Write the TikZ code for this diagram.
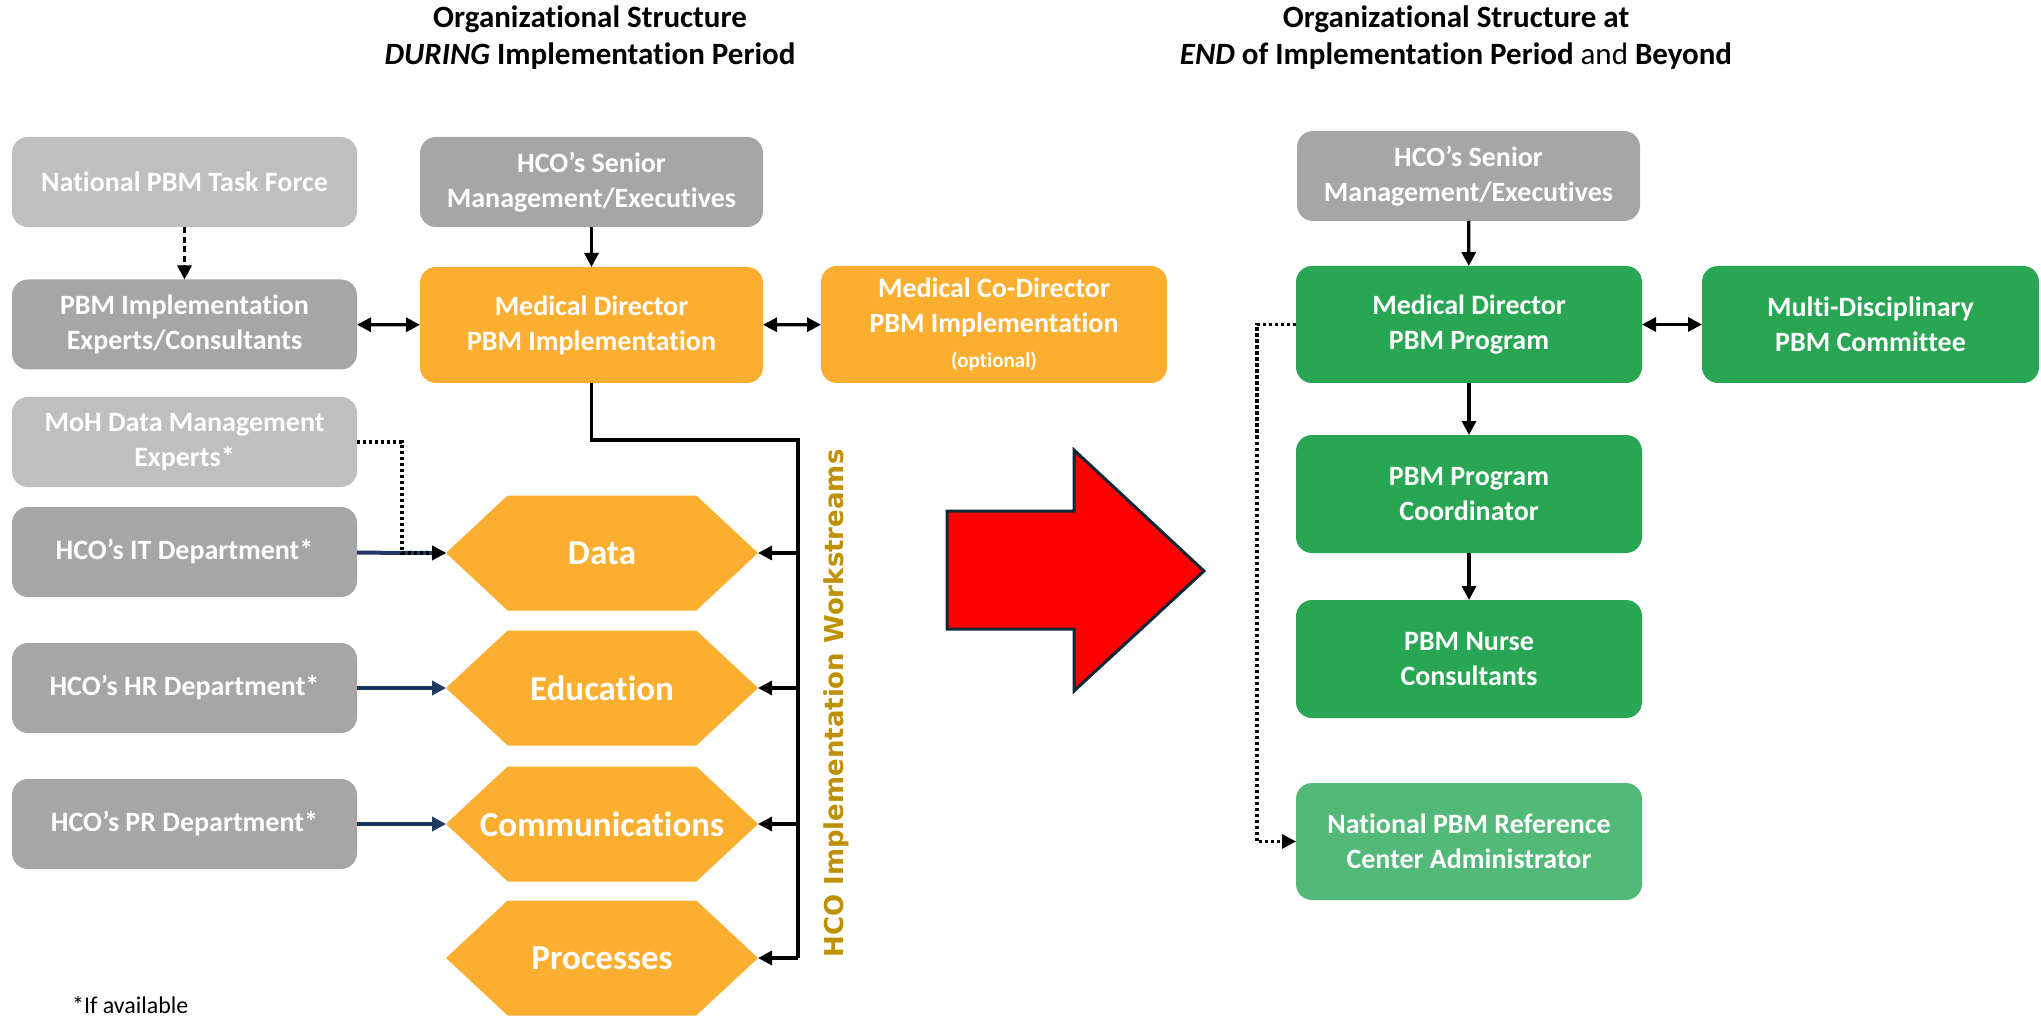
\documentclass[tikz,border=0pt]{standalone}
\usepackage{fontspec}
\setmainfont{Carlito}[Ligatures={TeX,NoCommon}]
\newfontfamily\vertfont{DejaVu Sans}
\usetikzlibrary{arrows.meta,shapes.symbols}

\definecolor{pbmlight}{HTML}{BFBFBF}
\definecolor{pbmgray}{HTML}{A6A6A6}
\definecolor{pbmorange}{HTML}{FBAE2F}
\definecolor{pbmgreen}{HTML}{28A653}
\definecolor{pbmpale}{HTML}{53B979}
\definecolor{pbmnavy}{HTML}{1F3864}
\definecolor{pbmgold}{HTML}{BF9000}
\definecolor{pbmred}{HTML}{FF0000}
\definecolor{pbmedge}{HTML}{0E2A3A}

\tikzset{
  box/.style={rounded corners=8pt, minimum width=172.5pt, minimum height=45pt,
    align=center, text=white, outer sep=0pt, inner sep=2pt,
    font=\fontsize{14}{17.5}\selectfont\bfseries},
  hexbox/.style={shape=signal, signal to=east and west, signal pointer angle=86,
    fill=pbmorange, text=white, minimum width=156pt, minimum height=57.5pt,
    outer sep=0pt, inner sep=0pt, font=\fontsize{17.5}{20}\selectfont\bfseries},
  headline/.style={align=center, font=\fontsize{15.5}{18.5}\selectfont\bfseries},
  link/.style={line width=1.6pt, -{Triangle[length=7pt,width=7pt]}},
  duallink/.style={line width=1.6pt, {Triangle[length=7pt,width=7pt]}-{Triangle[length=7pt,width=7pt]}},
  dashlink/.style={link, dash pattern=on 3pt off 1.8pt},
  dotlink/.style={link, dash pattern=on 1.6pt off 1.4pt},
  navylink/.style={line width=2pt, draw=pbmnavy, -{Triangle[length=7pt,width=7pt]}},
  wire/.style={line width=1.6pt}
}

\begin{document}
\begin{tikzpicture}[x=0.5pt, y=-0.5pt]
\useasboundingbox (0,0) rectangle (2041,1016);

% ----------------------------------------------------------
% Headlines
% ----------------------------------------------------------
\node[headline] (ttlA) at (590,38) {Organizational Structure\\\textit{DURING} Implementation Period};
\node[headline] (ttlB) at (1456,38) {Organizational Structure at\\\textit{END} of Implementation Period {\mdseries and} Beyond};

% ----------------------------------------------------------
% During implementation
% ----------------------------------------------------------
\node[box, fill=pbmlight] (ntf) at (184.5,182) {National PBM Task Force};
\node[box, fill=pbmgray] (exp) at (184.5,324.5) {PBM Implementation\\Experts/Consultants};
\node[box, fill=pbmlight] (moh) at (184.5,442) {MoH Data Management\\Experts*};
\node[box, fill=pbmgray] (itd) at (184.5,552) {HCO’s IT Department*};
\node[box, fill=pbmgray] (hrd) at (184.5,688) {HCO’s HR Department*};
\node[box, fill=pbmgray] (prd) at (184.5,824) {HCO’s PR Department*};

\node[box, fill=pbmgray, minimum width=171.5pt] (sen) at (591.5,182) {HCO’s Senior\\Management/Executives};
\node[box, fill=pbmorange, minimum width=171.5pt, minimum height=58pt] (mdi) at (591.5,325) {Medical Director\\PBM Implementation};
\node[box, fill=pbmorange, minimum width=173pt, minimum height=58.5pt] (cod) at (994,324.5) {Medical Co-Director\\PBM Implementation\\{\fontsize{10.5}{12}\selectfont (optional)}};

% Workstreams
\foreach \nm/\lbl/\yy in {data/Data/553, edu/Education/688, com/Communications/824, pro/Processes/958} {
    \node[hexbox] (\nm) at (602,\yy) {\makebox[60pt][c]{\lbl}};
}
\node[rotate=90, text=pbmgold, font=\vertfont\bfseries\fontsize{13}{15}\selectfont] (wsl) at (836,703.5) {HCO Implementation Workstreams};

\coordinate (bus) at (798,440);
\draw[wire] (mdi.south) |- (bus) -- (bus |- pro.east);
\foreach \nm in {data,edu,com,pro} {
    \draw[link] (bus |- \nm.east) -- (\nm.east);
}

\draw[dashlink] (ntf) -- (exp);
\draw[link] (sen) -- (mdi);
\draw[duallink] (exp) -- (mdi);
\draw[duallink] (mdi) -- (cod);
\draw[navylink] (itd) -- (data.west);
\draw[navylink] (hrd) -- (edu.west);
\draw[navylink] (prd) -- (com.west);
\draw[dotlink] (moh.east) -- ++(45,0) |- (data.west);

\node[anchor=base west, font=\fontsize{12}{14}\selectfont] (note) at (65,1013) {*If available};

% ----------------------------------------------------------
% Transition
% ----------------------------------------------------------
\draw[fill=pbmred, draw=pbmedge, line width=1.5pt] (947,511) -- (1074,511) -- (1074,450) -- (1204,571)
    -- (1074,691) -- (1074,629) -- (947,629) -- cycle;

% ----------------------------------------------------------
% End of implementation and beyond
% ----------------------------------------------------------
\node[box, fill=pbmgray, minimum width=171.5pt] (sen2) at (1468.5,176) {HCO’s Senior\\Management/Executives};
\node[box, fill=pbmgreen, minimum width=173pt, minimum height=58.5pt] (mdp) at (1469,324.5) {Medical Director\\PBM Program};
\node[box, fill=pbmgreen, minimum width=168.5pt, minimum height=58.5pt] (mdc) at (1870.5,324.5) {Multi-Disciplinary\\PBM Committee};
\node[box, fill=pbmgreen, minimum width=173pt, minimum height=59pt] (crd) at (1469,494) {PBM Program\\Coordinator};
\node[box, fill=pbmgreen, minimum width=173pt, minimum height=59pt] (nur) at (1469,659) {PBM Nurse\\Consultants};
\node[box, fill=pbmpale, minimum width=173pt, minimum height=58.5pt] (ref) at (1469,841.5) {National PBM Reference\\Center Administrator};

\draw[link] (sen2) -- (mdp);
\draw[duallink] (mdp) -- (mdc);
\draw[link] (mdp) -- (crd);
\draw[link] (crd) -- (nur);
\draw[dotlink] (mdp.west) -- ++(-39,0) |- (ref.west);

\end{tikzpicture}
\end{document}
